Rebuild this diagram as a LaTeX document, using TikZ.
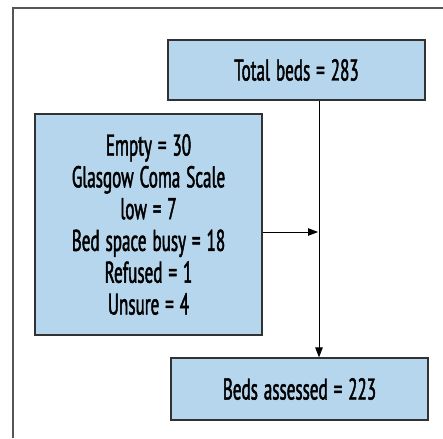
\documentclass[tikz,border=0pt]{standalone}
\usepackage{fontspec}
\setmainfont{PT Sans}[FakeStretch=0.57, FakeBold=1.5, WordSpace=1.3]
\usetikzlibrary{arrows.meta}
\definecolor{boxfill}{RGB}{181,214,237}
\definecolor{boxline}{RGB}{50,50,50}
\definecolor{frameline}{RGB}{85,85,85}
\begin{document}
\begin{tikzpicture}[x=1pt,y=1pt,
  flowbox/.style={draw=boxline, line width=1.2pt, fill=boxfill, align=center, inner sep=0pt,
    font=\fontsize{30}{31.8}\selectfont},
  flowarrow/.style={draw=black, line width=0.9pt, -{Triangle[length=10pt,width=7.5pt]}}]
\useasboundingbox (0,0) rectangle (443,-438);
\draw[frameline, line width=1.6pt] (13,-438) -- (13,-8) -- (443,-8);
\node[flowbox, minimum width=257, minimum height=60] (total) at (296.5,-70) {Total beds = 283};
\node[flowbox, minimum width=227, minimum height=221] (left) at (148.5,-224.5)
  {Empty = 30\\Glasgow Coma Scale\\low = 7\\Bed space busy = 18\\Refused = 1\\Unsure = 4};
\node[flowbox, minimum width=257, minimum height=62] (bottom) at (299.5,-389) {Beds assessed = 223};
\coordinate (j) at (319,-232);
\draw[flowarrow] (total.south -| j) -- (bottom.north -| j);
\draw[flowarrow] (left.east |- j) -- ([xshift=-1pt]j);
\end{tikzpicture}
\end{document}
